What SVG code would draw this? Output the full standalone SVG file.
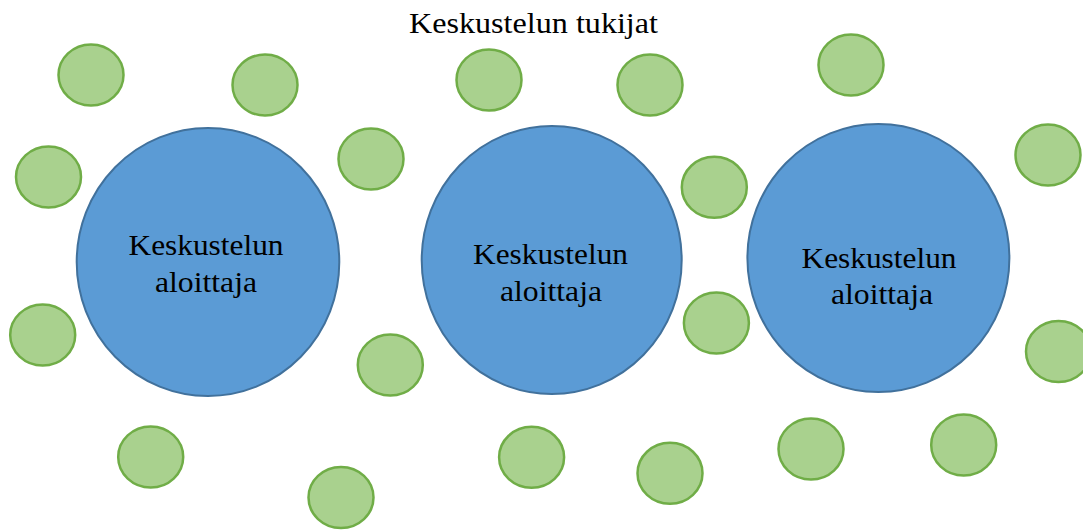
<svg xmlns="http://www.w3.org/2000/svg" width="1083" height="530" viewBox="0 0 1083 530">
  <style>
    .lead { fill: #5B9BD5; stroke: #41719C; stroke-width: 2; }
    .support { fill: #A9D18E; stroke: #70AD47; stroke-width: 2.5; }
    .label { font-size: 30px; fill: #000; text-anchor: middle; }
  </style>
  <rect width="1083" height="530" fill="#fff"/>

  <g id="title" font-family="Liberation Serif, DejaVu Serif, serif">
    <text class="label" x="533.5" y="32.7" textLength="249" lengthAdjust="spacingAndGlyphs">Keskustelun tukijat</text>
  </g>

  <!-- Supporters around the conversation starters -->
  <g id="supporters">
    <ellipse id="s1" class="support" cx="91" cy="75" rx="32.5" ry="30.5"/>
    <ellipse id="s2" class="support" cx="265" cy="85" rx="32.5" ry="30.5"/>
    <ellipse id="s3" class="support" cx="48.5" cy="177" rx="32.5" ry="30.5"/>
    <ellipse id="s4" class="support" cx="371" cy="159" rx="32.5" ry="30.5"/>
    <ellipse id="s5" class="support" cx="489" cy="80" rx="32.5" ry="30.5"/>
    <ellipse id="s6" class="support" cx="650" cy="85" rx="32.5" ry="30.5"/>
    <ellipse id="s7" class="support" cx="851" cy="65" rx="32.5" ry="30.5"/>
    <ellipse id="s8" class="support" cx="714.3" cy="187.3" rx="32.5" ry="30.5"/>
    <ellipse id="s9" class="support" cx="1048" cy="155" rx="32.5" ry="30.5"/>
    <ellipse id="s10" class="support" cx="42.7" cy="335" rx="32.5" ry="30.5"/>
    <ellipse id="s11" class="support" cx="390.3" cy="365" rx="32.5" ry="30.5"/>
    <ellipse id="s12" class="support" cx="716.4" cy="323" rx="32.5" ry="30.5"/>
    <ellipse id="s13" class="support" cx="1058.5" cy="351.5" rx="32.5" ry="30.5"/>
    <ellipse id="s14" class="support" cx="150.7" cy="457" rx="32.5" ry="30.5"/>
    <ellipse id="s15" class="support" cx="341" cy="497.5" rx="32.5" ry="30.5"/>
    <ellipse id="s16" class="support" cx="531.6" cy="457.3" rx="32.5" ry="30.5"/>
    <ellipse id="s17" class="support" cx="670" cy="473.3" rx="32.5" ry="30.5"/>
    <ellipse id="s18" class="support" cx="811" cy="449" rx="32.5" ry="30.5"/>
    <ellipse id="s19" class="support" cx="963.7" cy="445" rx="32.5" ry="30.5"/>
  </g>

  <!-- Conversation starters -->
  <g id="starter1" font-family="Liberation Serif, DejaVu Serif, serif">
    <ellipse class="lead" cx="208" cy="262" rx="131.3" ry="134"/>
    <text class="label" x="206" y="255" textLength="155" lengthAdjust="spacingAndGlyphs">Keskustelun</text>
    <text class="label" x="206" y="291.7" textLength="102" lengthAdjust="spacingAndGlyphs">aloittaja</text>
  </g>
  <g id="starter2" font-family="Liberation Serif, DejaVu Serif, serif">
    <ellipse class="lead" cx="551.7" cy="260" rx="130" ry="134"/>
    <text class="label" x="550.5" y="264" textLength="155" lengthAdjust="spacingAndGlyphs">Keskustelun</text>
    <text class="label" x="551" y="300.7" textLength="102" lengthAdjust="spacingAndGlyphs">aloittaja</text>
  </g>
  <g id="starter3" font-family="Liberation Serif, DejaVu Serif, serif">
    <ellipse class="lead" cx="878.4" cy="258" rx="131" ry="134"/>
    <text class="label" x="879" y="267.5" textLength="155" lengthAdjust="spacingAndGlyphs">Keskustelun</text>
    <text class="label" x="882" y="304" textLength="102" lengthAdjust="spacingAndGlyphs">aloittaja</text>
  </g>

  <g id="connectors"/>
</svg>
